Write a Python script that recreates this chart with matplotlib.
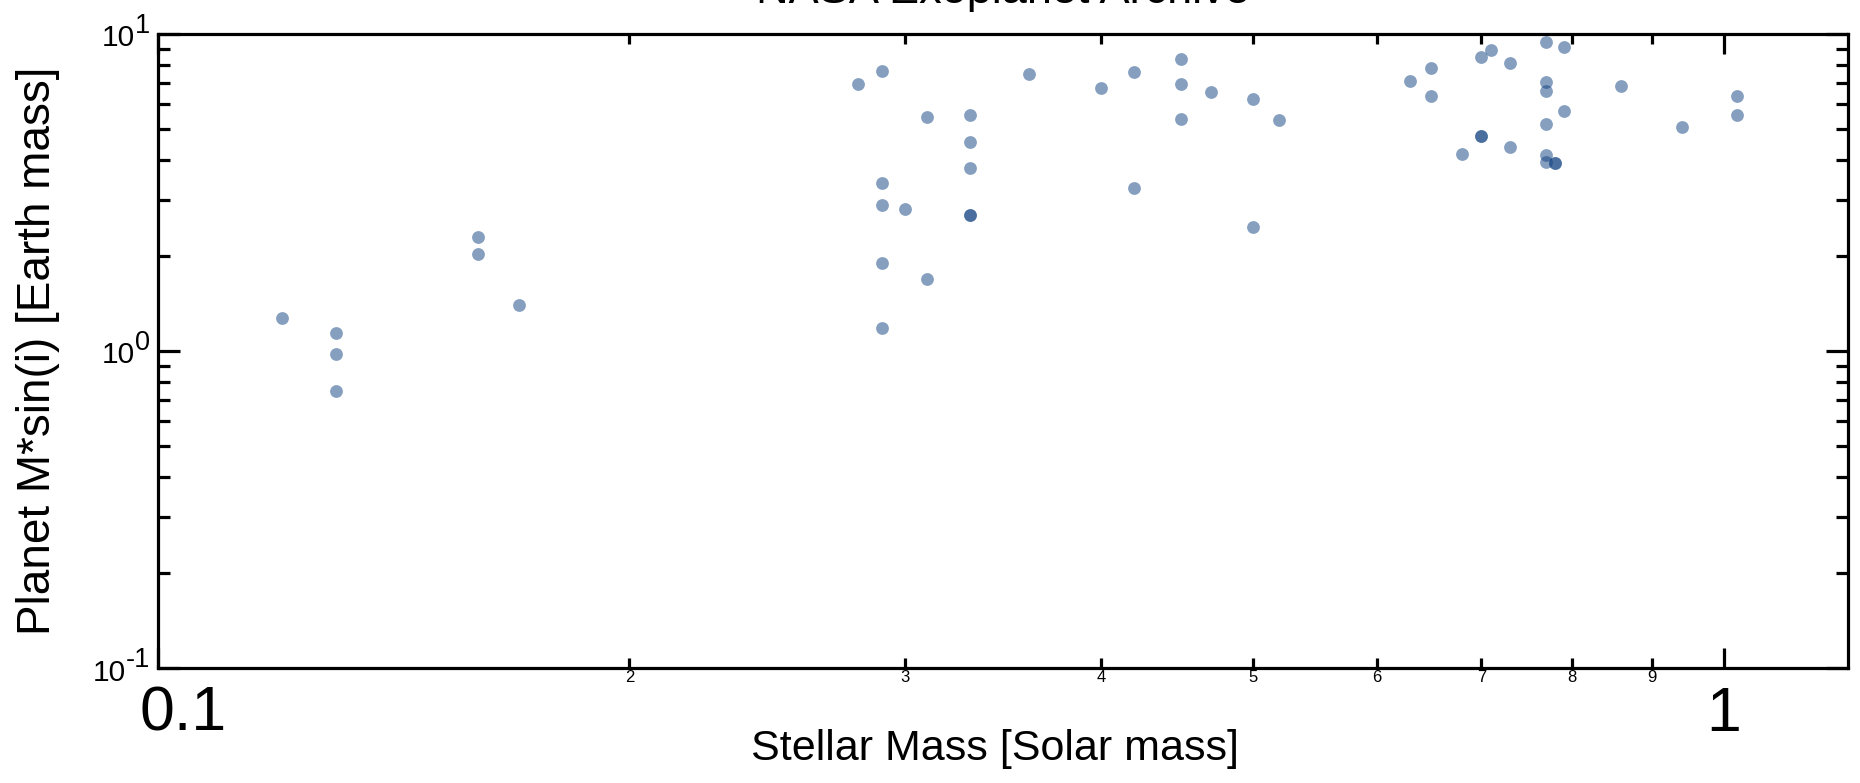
import matplotlib
matplotlib.use("Agg")
import matplotlib.pyplot as plt
import matplotlib.ticker as mticker
import matplotlib.transforms as mtransforms

plt.rcParams['font.family'] = ['Liberation Sans', 'DejaVu Sans']

# ---- data ----
stellar_mass = [0.120, 0.130, 0.130, 0.130, 0.160, 0.160, 0.170,
                0.280, 0.290, 0.290, 0.290, 0.290, 0.290, 0.300,
                0.310, 0.310, 0.330, 0.330, 0.330, 0.330, 0.330,
                0.360, 0.400, 0.420, 0.420, 0.450, 0.450, 0.450,
                0.470, 0.500, 0.500, 0.520, 0.630, 0.650, 0.650,
                0.680, 0.700, 0.710, 0.700, 0.700, 0.730, 0.730,
                0.770, 0.790, 0.770, 0.770, 0.790, 0.770, 0.770,
                0.770, 0.780, 0.780, 0.860, 0.940, 1.020, 1.020]
planet_msini = [1.27, 1.137, 0.978, 0.749, 2.29, 2.02, 1.40,
                6.94, 7.66, 3.40, 2.88, 1.90, 1.18, 2.80,
                5.48, 1.69, 5.55, 4.57, 3.79, 2.69, 2.69,
                7.46, 6.76, 7.57, 3.27, 8.34, 6.95, 5.39,
                6.58, 6.22, 2.46, 5.34, 7.12, 7.81, 6.39,
                4.17, 8.44, 8.92, 4.77, 4.77, 8.08, 4.40,
                9.46, 9.12, 7.07, 6.60, 5.73, 5.19, 4.15,
                3.95, 3.91, 3.91, 6.86, 5.08, 6.39, 5.55]

x_major = [0.1, 1.0]
x_major_labels = ['0.1', '1']
x_minor = [0.2, 0.3, 0.4, 0.5, 0.6, 0.7, 0.8, 0.9]
x_minor_labels = ['2', '3', '4', '5', '6', '7', '8', '9']
y_major = [0.1, 1.0, 10.0]
y_exponents = ['-1', '0', '1']

title = 'NASA Exoplanet Archive'
xlabel = 'Stellar Mass [Solar mass]'
ylabel = 'Planet M*sin(i) [Earth mass]'

# ---- figure ----
fig = plt.figure(figsize=(18.6, 7.83), dpi=100)
ax = fig.add_axes([0.08495, 0.14687, 0.90860, 0.80971])

ax.scatter(stellar_mass, planet_msini, s=85, color=(15/255, 65/255, 129/255),
           alpha=0.5, linewidths=0, zorder=3)

ax.set_xscale('log')
ax.set_yscale('log')
ax.set_xlim(0.1, 1.2)
ax.set_ylim(0.1, 10)

ax.xaxis.set_major_locator(mticker.FixedLocator(x_major))
ax.xaxis.set_major_formatter(mticker.FixedFormatter(x_major_labels))
ax.xaxis.set_minor_locator(mticker.FixedLocator(x_minor))
ax.xaxis.set_minor_formatter(mticker.FixedFormatter(x_minor_labels))

ax.yaxis.set_major_locator(mticker.FixedLocator(y_major))
ax.yaxis.set_major_formatter(mticker.NullFormatter())
ax.yaxis.set_minor_locator(mticker.LogLocator(base=10, subs=range(2, 10)))
ax.yaxis.set_minor_formatter(mticker.NullFormatter())

for sp in ax.spines.values():
    sp.set_linewidth(2.3)

ax.tick_params(axis='both', which='both', direction='in', top=True, right=True,
               width=2.3, color='black')
ax.tick_params(axis='x', which='major', length=14.5, labelsize=45, pad=12)
ax.tick_params(axis='x', which='minor', length=7, labelsize=12, pad=1.5)
ax.tick_params(axis='y', which='major', length=16, labelleft=False)
ax.tick_params(axis='y', which='minor', length=8.5, labelleft=False)

# y tick labels: "10" with a full-size exponent
for yv, ex in zip(y_major, y_exponents):
    et = ax.annotate(ex, xy=(0, yv), xycoords=('axes fraction', 'data'),
                     xytext=(-5.8, 0.4), textcoords='offset points',
                     ha='right', va='baseline', fontsize=19.5,
                     annotation_clip=False)
    ax.annotate('10', xy=(0, 0), xycoords=et, xytext=(0, -9.4),
                textcoords='offset points', ha='right', va='bottom',
                fontsize=21.5, annotation_clip=False)

ax.set_title(title, fontsize=32.5, pad=22)
ax.set_xlabel(xlabel, fontsize=31)
ax.xaxis.set_label_coords(0.4955, -0.097)
ax.set_ylabel(ylabel, fontsize=33)
ax.yaxis.set_label_coords(-0.058, 0.5)

# the "0.1" label sits slightly to the right of its tick in the reference
fig.canvas.draw()
t0 = ax.xaxis.get_major_ticks()[0]
t0.label1.set_transform(t0.label1.get_transform() +
                        mtransforms.ScaledTranslation(0.25, 0, fig.dpi_scale_trans))

fig.savefig('out.png', dpi=100)
